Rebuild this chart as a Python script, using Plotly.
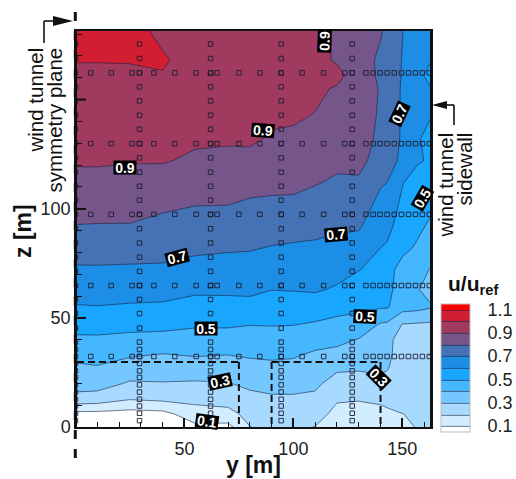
import plotly.graph_objects as go

# ---- contour grid -----------------------------------------------------
grid_x = [0.7, 10, 25, 40, 55, 70, 80, 90, 100, 110, 120, 130, 140, 143, 150, 157, 162.7]
grid_y = [0, 6, 13, 20, 27, 33, 40, 47, 55, 63, 72, 82, 92, 102, 112, 122, 132, 142, 155, 161, 168, 181.4]
# one list per grid_x column, bottom to top
col_000 = [.04,.07,.27,.338,.383,.427,.483,.536,.594,.639,.688,.742,.797,.838,.877,.909,.929,.95,.976,.99,1.002,1.03]
col_010 = [.04,.07,.26,.34,.39,.44,.485,.535,.597,.64,.689,.741,.795,.836,.875,.91,.93,.95,.976,.99,1.002,1.03]
col_025 = [.03,.06,.21,.29,.355,.41,.473,.53,.59,.637,.686,.74,.795,.833,.871,.905,.926,.948,.975,.99,1.003,1.03]
col_040 = [.03,.07,.225,.295,.35,.394,.47,.525,.586,.634,.683,.737,.77,.82,.868,.905,.93,.95,.975,.995,1.01,.98]
col_055 = [.08,.155,.23,.29,.352,.407,.46,.512,.565,.617,.667,.718,.76,.803,.846,.889,.91,.93,.95,.96,.965,.975]
col_070 = [.07,.17,.24,.296,.353,.4,.46,.512,.568,.617,.662,.71,.756,.802,.84,.88,.91,.93,.95,.955,.96,.97]
col_080 = [.198,.23,.275,.32,.37,.41,.455,.503,.57,.62,.66,.707,.75,.788,.83,.875,.915,.93,.94,.945,.95,.96]
col_090 = [.22,.25,.287,.332,.377,.416,.461,.505,.554,.602,.646,.695,.74,.785,.822,.856,.89,.915,.935,.94,.945,.95]
col_100 = [.215,.245,.288,.33,.373,.41,.456,.503,.555,.605,.645,.688,.736,.784,.82,.853,.884,.91,.93,.935,.94,.945]
col_110 = [.198,.235,.28,.32,.355,.385,.435,.49,.555,.61,.65,.685,.725,.77,.805,.835,.86,.895,.92,.923,.925,.93]
col_120 = [.16,.175,.21,.26,.316,.37,.425,.475,.53,.59,.63,.673,.715,.752,.79,.815,.84,.865,.89,.93,.89,.89]
col_130 = [.16,.175,.205,.26,.31,.35,.395,.47,.515,.555,.603,.66,.71,.75,.79,.82,.84,.84,.84,.845,.85,.86]
col_140 = [.12,.17,.22,.27,.32,.34,.365,.39,.51,.535,.567,.60,.64,.672,.71,.77,.78,.79,.795,.785,.78,.81]
col_143 = [.13,.18,.23,.275,.305,.315,.32,.385,.51,.53,.53,.59,.625,.66,.70,.74,.75,.755,.76,.75,.75,.77]
col_150 = [.18,.199,.235,.255,.265,.27,.27,.297,.44,.45,.47,.52,.56,.58,.605,.68,.69,.69,.69,.695,.697,.702]
col_157 = [.205,.21,.22,.235,.245,.25,.26,.29,.43,.405,.45,.49,.515,.535,.56,.61,.605,.615,.63,.62,.63,.66]
col_163 = [.21,.21,.215,.23,.24,.195,.255,.285,.41,.37,.395,.475,.49,.515,.53,.59,.585,.602,.605,.58,.605,.64]
columns = [col_000, col_010, col_025, col_040, col_055, col_070, col_080, col_090, col_100,
           col_110, col_120, col_130, col_140, col_143, col_150, col_157, col_163]
z_rows = [list(r) for r in zip(*columns)]

band_colors = ["#FFFFFF", "#D2EDFF", "#A8DAFF", "#74C8FF", "#44B7FF", "#18A6FF",
               "#1C8EE6", "#4472B4", "#76558A", "#A03A5E", "#D21E32", "#FF0000"]
colorbar_ticks = [0.1, 0.3, 0.5, 0.7, 0.9, 1.1]
y_ticks = [0, 50, 100]
x_ticks = [50, 100, 150]

# ---- measurement positions -------------------------------------------
row_heights = [162.2, 129.8, 97.4, 64.8, 32.3]
row_spans = [7, 16.4, 26, 29.4, 36, 45.6, 55.4, 62, 65, 75, 84.6, 94.4, 104, 113.9, 123.6, 127,
             133.3, 136.6, 139.8, 143, 146.3, 149.6, 152.8, 156, 159.2, 162.4]
tower_spans = [0, 29.4, 62, 94.4, 127]
tower_heights = [175.4, 168.8, 155.8, 149.4, 142.8, 136.4, 123.3, 116.7, 110.3, 103.9, 90.8,
                 84.3, 77.8, 71.3, 58.4, 52, 45.3, 38.9, 35.5, 29.1, 25.7, 22.7, 19.3, 16,
                 12.7, 9.6, 6.3, 2.9, 162.2, 129.8, 97.4, 64.8, 32.3]
point_x = [x for _ in row_heights for x in row_spans] + [x for x in tower_spans for _ in tower_heights]
point_y = [y for y in row_heights for _ in row_spans] + [y for _ in tower_spans for y in tower_heights]

# ---- contour labels: text, centre pixel, angle -------------------------
label_text = ["0.9", "0.9", "0.9", "0.7", "0.7", "0.7", "0.5", "0.5", "0.5", "0.3", "0.3", "0.1"]
label_px = [125, 263, 324, 177, 336, 400, 422, 206, 365, 220, 379, 207]
label_py = [167, 130, 41, 257, 234, 114, 198, 328, 316, 381, 377, 421]
label_angle = [0, 4, -88, -15, -5, -65, -60, 0, 3, -12, 45, 8]

L, R, T, B = 77.0, 430.0, 31.0, 427.0
def fx(p): return (p - L) / (R - L)
def fy(p): return (B - p) / (B - T)

fig = go.Figure()
n = len(band_colors) - 1
fig.add_trace(go.Contour(
    x=grid_x, y=grid_y, z=z_rows,
    autocontour=False, zmin=0.05, zmax=1.15,
    contours=dict(start=0.1, end=1.1, size=0.1, coloring="fill", showlines=True),
    line=dict(color="rgba(25,30,60,0.75)", width=0.8, smoothing=0),
    colorscale=[[i / n, c] for i, c in enumerate(band_colors)],
    colorbar=dict(
        thicknessmode="pixels", thickness=28.5, lenmode="pixels", len=128,
        x=fx(440.7), xanchor="left", xpad=0, y=fy(431.7), yanchor="bottom", ypad=0,
        outlinecolor="#bbbbbb", outlinewidth=1, borderwidth=0,
        tickmode="array", tickvals=colorbar_ticks, ticktext=[f"{t:.1f}" for t in colorbar_ticks],
        ticks="outside", ticklen=14, tickcolor="rgba(0,0,0,0)",
        tickfont=dict(family="Liberation Sans", size=18, color="#222222"),
    ),
    hoverinfo="skip",
))
fig.add_trace(go.Scatter(
    x=point_x, y=point_y, mode="markers",
    marker=dict(symbol="square-open", size=4.5, color="rgba(30,30,50,0.9)", line=dict(width=1)),
    showlegend=False, hoverinfo="skip",
))

axis_common = dict(
    showgrid=False, zeroline=False, showline=True, linecolor="#111111", mirror=True,
    ticks="inside", ticklen=9, tickwidth=2, tickcolor="#111111",
    minor=dict(ticks="inside", dtick=10, tick0=0, ticklen=5, tickwidth=1, tickcolor="#111111"),
    tickfont=dict(family="Liberation Sans", size=18, color="#222222"),
    tickmode="array",
)
fig.update_xaxes(range=[0.7, 162.7], linewidth=2, ticklabelstandoff=4, tickvals=x_ticks,
                 ticktext=[str(v) for v in x_ticks], **axis_common)
fig.update_yaxes(range=[0, 181.4], linewidth=2.5, tickvals=y_ticks,
                 ticktext=[str(v) for v in y_ticks], **axis_common)

shapes = []
dash_line = dict(color="#111111", width=2, dash="7px,4px")
# dashed boxes in data coordinates
shapes.append(dict(type="line", xref="x", yref="y", x0=0.7, x1=75, y0=29.8, y1=29.8, line=dash_line))
shapes.append(dict(type="line", xref="x", yref="y", x0=75, x1=75, y0=29.8, y1=0, line=dash_line))
shapes.append(dict(type="line", xref="x", yref="y", x0=90, x1=140, y0=29.8, y1=29.8, line=dash_line))
shapes.append(dict(type="line", xref="x", yref="y", x0=90, x1=90, y0=29.8, y1=0, line=dash_line))
shapes.append(dict(type="line", xref="x", yref="y", x0=140, x1=140, y0=29.8, y1=0, line=dash_line))
# long unlabelled tick at z=150
shapes.append(dict(type="line", xref="x", yref="y", x0=0.7, x1=4.8, y0=150, y1=150,
                   line=dict(color="#111111", width=2)))
# symmetry plane, dashed, sticking out of the plot
shapes.append(dict(type="line", xref="paper", yref="paper", x0=fx(75.3), x1=fx(75.3), y0=fy(12), y1=fy(462),
                   line=dict(color="#111111", width=3, dash="9px,10px")))
# elbow arrows
arrow = dict(color="#111111", width=1.6)
def seg(a, b, c, d):
    return dict(type="line", xref="paper", yref="paper", x0=fx(a), y0=fy(b), x1=fx(c), y1=fy(d), line=arrow)
def head(tip, back, yc, hw):
    return dict(type="path", xref="paper", yref="paper", fillcolor="#111111", line=dict(width=0),
                path=f"M{fx(tip)},{fy(yc)} L{fx(back)},{fy(yc - hw)} L{fx(back)},{fy(yc + hw)} Z")
shapes += [seg(44, 43, 44, 21), seg(44, 21, 56, 21), head(73, 53, 21, 5),
           seg(454, 125, 454, 105), seg(454, 105, 445, 105), head(432, 447, 105, 4)]
fig.update_layout(shapes=shapes)

ann = []
for t, px, py, a in zip(label_text, label_px, label_py, label_angle):
    ann.append(dict(text=f"<b>{t}</b>", xref="paper", yref="paper", x=fx(px), y=fy(py),
                    xanchor="center", yanchor="middle", showarrow=False, textangle=a,
                    bgcolor="#000000", width=22, height=13, borderpad=0,
                    font=dict(family="Liberation Sans", size=14, color="#ffffff")))
def txt(text, px, py, size, angle=0, xa="center", ya="middle"):
    ann.append(dict(text=text, xref="paper", yref="paper", x=fx(px), y=fy(py), xanchor=xa, yanchor=ya,
                    showarrow=False, textangle=angle, borderpad=0,
                    font=dict(family="Liberation Sans", size=size, color="#111111")))
txt("<b>z [m]</b>", 23, 231, 23, angle=-90)
txt("<b>y [m]</b>", 253, 465, 23)
txt("wind tunnel", 35, 47, 20.5, angle=-90, ya="top")
txt("symmetry plane", 54, 47, 20.5, angle=-90, ya="top")
txt("wind tunnel", 445, 132, 20.5, angle=-90, ya="top")
txt("sidewall", 464, 132, 20.5, angle=-90, ya="top")
txt("<b>u/u<sub>ref</sub></b>", 473, 285, 21)

fig.update_layout(
    width=516, height=479, autosize=False,
    margin=dict(l=77, r=86, t=31, b=52, pad=0, autoexpand=False),
    paper_bgcolor="white", plot_bgcolor="white", showlegend=False,
    annotations=ann,
)
fig.write_html("out.html", config=dict(displayModeBar=False),
               post_script="document.body.style.margin='0';document.body.style.overflow='hidden';")
